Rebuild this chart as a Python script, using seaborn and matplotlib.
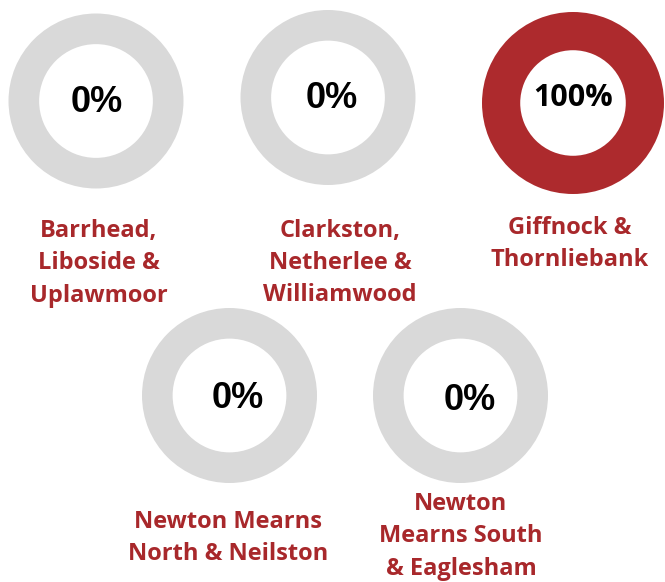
"""Share of responses by locality - five donut gauges."""
import matplotlib
matplotlib.use("Agg")
import matplotlib.pyplot as plt
import seaborn as sns

sns.set_theme(style="white")

# data
areas = [
    "Barrhead,\nLiboside &\nUplawmoor",
    "Clarkston,\nNetherlee &\nWilliamwood",
    "Giffnock &\nThornliebank",
    "Newton Mearns\nNorth & Neilston",
    "Newton\nMearns South\n& Eaglesham",
]
share_pct = [0, 0, 100, 0, 0]

RED = "#AD2A2D"
TEXT_RED = "#A8282B"
GREY = "#D9D9D9"

W, H = 665, 582
# layout in pixels: centre x, centre y, outer r, ring width (fraction of r)
centres = [(96, 101), (328, 97.5), (573, 103), (229.5, 395.5), (460.5, 395.5)]
radii = [87.5, 87.5, 91, 87.5, 87.5]
ring = [0.35, 0.35, 0.42, 0.35, 0.35]
pct_offset = [(1, 1), (4, 0.5), (0, -5), (8.5, 2.5), (9.5, 4.5)]
label_y = [263.5, 263, 244, 538, 536.5]
label_x = [99, 340, 570, 228, 461]

fig = plt.figure(figsize=(W / 100, H / 100), dpi=100)

for i, (name, pct) in enumerate(zip(areas, share_pct)):
    cx, cy = centres[i]
    r = radii[i]
    ax = fig.add_axes([(cx - r) / W, 1 - (cy + r) / H, 2 * r / W, 2 * r / H])
    ax.pie([pct, 100 - pct], colors=[RED, GREY], startangle=90, counterclock=False,
           radius=1, wedgeprops=dict(width=ring[i], linewidth=0))
    ax.set_xlim(-1, 1)
    ax.set_ylim(-1, 1)
    ax.set_axis_off()

    dx, dy = pct_offset[i]
    if pct == 100:
        fig.text((cx + dx) / W, 1 - (cy + dy) / H, f"{pct}%", ha="center", va="center",
                 fontsize=22, fontweight="bold", family=["Open Sans", "DejaVu Sans"], color="black")
    else:
        fig.text((cx + dx) / W, 1 - (cy + dy) / H, f"{pct}%", ha="center", va="center",
                 fontsize=26, fontweight="bold", family=["Liberation Sans", "DejaVu Sans"], color="black")

    fig.text(label_x[i] / W, 1 - label_y[i] / H, name, ha="center", va="center",
             fontsize=17, fontweight="bold", family=["Open Sans", "DejaVu Sans"],
             color=TEXT_RED, linespacing=1.46)

fig.savefig("out.png", dpi=100, facecolor="white")
